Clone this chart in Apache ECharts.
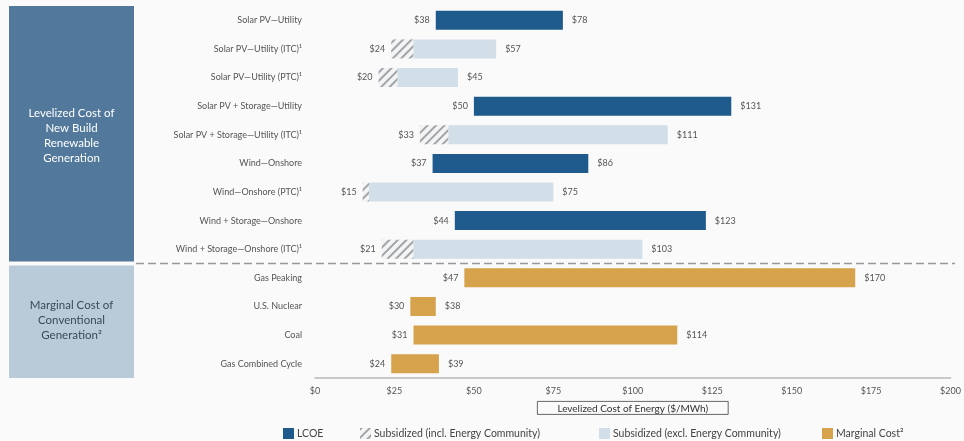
<!DOCTYPE html>
<html><head><meta charset="utf-8">
<script src="https://cdn.jsdelivr.net/npm/echarts@6/dist/echarts.min.js"></script>
<style>html,body{margin:0;padding:0;background:#fafafa;}#c{width:964px;height:441px;}</style>
</head><body><div id="c"></div>
<script>
const categories = ['Solar PV\u2014Utility','Solar PV\u2014Utility (ITC)\u00b9','Solar PV\u2014Utility (PTC)\u00b9','Solar PV + Storage\u2014Utility','Solar PV + Storage\u2014Utility (ITC)\u00b9','Wind\u2014Onshore','Wind\u2014Onshore (PTC)\u00b9','Wind + Storage\u2014Onshore','Wind + Storage\u2014Onshore (ITC)\u00b9','Gas Peaking','U.S. Nuclear','Coal','Gas Combined Cycle'];
const rowType = ['lcoe','sub','sub','lcoe','sub','lcoe','sub','lcoe','sub','mc','mc','mc','mc'];
const lowVals  = [38,24,20,50,33,37,15,44,21,47,30,31,24];
const hatchEnd = [null,31,26,null,42,null,17,null,31,null,null,null,null];
const highVals = [78,57,45,131,111,86,75,123,103,170,38,114,39];
const xTicks = [0,25,50,75,100,125,150,175,200];

const FONT = 'Lato';
const LBL = {color:'#555', fontSize:9, fontFamily:FONT};
const C_LCOE='#1f5a8c', C_SUB='#d2dee8', C_MC='#d6a24c';

const baseData = lowVals.slice();
const lcoeData = rowType.map((t,i)=> t==='lcoe' ? highVals[i]-lowVals[i] : '-');
const hatchData = rowType.map((t,i)=> t==='sub' ? hatchEnd[i]-lowVals[i] : '-');
const lightData = rowType.map((t,i)=> t==='sub' ? highVals[i]-hatchEnd[i] : '-');
const mcData = rowType.map((t,i)=> t==='mc' ? highVals[i]-lowVals[i] : '-');
const rightLabel = {show:true, position:'right', distance:9, ...LBL, formatter:p=>'$'+highVals[p.dataIndex]};
const BW = 19;

const chart = echarts.init(document.getElementById('c'));
const option = {
  backgroundColor:'#fafafa',
  animation:false,
  grid:{left:315, right:9, top:6, bottom:63},
  xAxis:{type:'value', min:xTicks[0], max:xTicks[xTicks.length-1], interval:xTicks[1]-xTicks[0],
    axisLine:{show:true, lineStyle:{color:'#b8b8b8', width:1.5}}, axisTick:{show:false}, splitLine:{show:false},
    axisLabel:{...LBL, margin:9, formatter:v=>'$'+v},
    name:'Levelized Cost of Energy ($/MWh)', nameLocation:'middle', nameGap:23,
    nameTextStyle:{color:'#333', fontSize:10, fontFamily:FONT, borderColor:'#666', borderWidth:1, padding:[2,20,1,20]}},
  yAxis:{type:'category', data:categories, inverse:true,
    axisLine:{show:false}, axisTick:{show:false},
    axisLabel:{...LBL, margin:13}},
  legend:[
    {data:['LCOE'], left:278, top:423},
    {data:['Subsidized (incl. Energy Community)'], left:355, top:423},
    {data:['Subsidized (excl. Energy Community)'], left:594, top:423},
    {data:['Marginal Cost\u00b2'], left:817, top:423}
  ].map(l=>({...l, icon:'rect', itemWidth:11, itemHeight:11, itemGap:4, textStyle:{...LBL, fontSize:10.5, color:'#444', padding:[0,0,0,-2]}})),
  series:[
    {name:'base', type:'bar', stack:'a', barWidth:BW, data:baseData, itemStyle:{color:'rgba(0,0,0,0)'},
      label:{show:true, position:'insideRight', distance:6, ...LBL, formatter:p=>'$'+lowVals[p.dataIndex]}, silent:true},
    {name:'LCOE', type:'bar', stack:'a', barWidth:BW, data:lcoeData, itemStyle:{color:C_LCOE}, label:rightLabel},
    {name:'Subsidized (incl. Energy Community)', type:'bar', stack:'a', barWidth:BW, data:hatchData,
      itemStyle:{color:'#f4f4f4', decal:{symbol:'rect', color:'#a0a5aa', dashArrayX:[1,0], dashArrayY:[1.5,4], rotation:-Math.PI/4, symbolSize:1}}},
    {name:'Subsidized (excl. Energy Community)', type:'bar', stack:'a', barWidth:BW, data:lightData, itemStyle:{color:C_SUB}, label:rightLabel},
    {name:'Marginal Cost\u00b2', type:'bar', stack:'a', barWidth:BW, data:mcData, itemStyle:{color:C_MC}, label:rightLabel}
  ]
};
chart.setOption(option);

// separator and group boxes
const ySep = (chart.convertToPixel({yAxisIndex:0}, categories[8]) + chart.convertToPixel({yAxisIndex:0}, categories[9]))/2;
const yTop = 6, yBot = 441-63;
chart.setOption({graphic:[
  {type:'rect', shape:{x:9, y:yTop, width:125, height:ySep-yTop-2}, style:{fill:'#52799b'}},
  {type:'rect', shape:{x:9, y:ySep+2, width:125, height:yBot-ySep-2}, style:{fill:'#b9cad8'}},
  {type:'text', x:71.5, y:(yTop+ySep)/2+1, style:{text:'Levelized Cost of\nNew Build\nRenewable\nGeneration', fill:'#ffffff', font:'11.5px '+FONT, align:'center', verticalAlign:'middle', lineHeight:15}},
  {type:'text', x:71.5, y:(ySep+yBot)/2, style:{text:'Marginal Cost of\nConventional\nGeneration\u00b2', fill:'#3a4a58', font:'11.5px '+FONT, align:'center', verticalAlign:'middle', lineHeight:15}},
  {type:'line', shape:{x1:136, y1:ySep, x2:955, y2:ySep}, style:{stroke:'#999', lineWidth:1.5, lineDash:[8,4]}}
]});
</script></body></html>
